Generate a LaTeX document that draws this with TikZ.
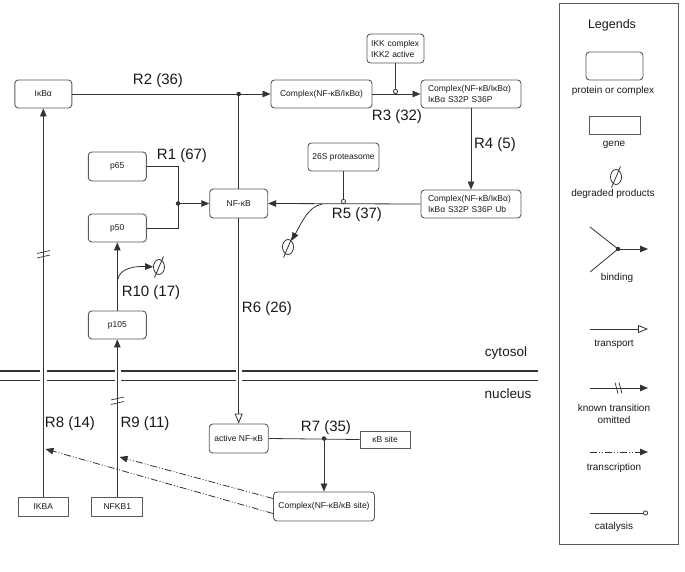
\documentclass[tikz,border=0pt]{standalone}
\usepackage{fontspec}
\setmainfont{Liberation Sans}
\usetikzlibrary{arrows.meta,shapes.geometric}
\definecolor{ln}{HTML}{333333}
\definecolor{bd}{HTML}{5A5A5A}
\definecolor{tx}{HTML}{1A1A1A}
\newcommand\slashdeg[1]{\draw[ln,line width=0.8pt] (#1.center) +(-4.5,10.5) -- +(4.5,-10.5);}
\tikzset{
  prot/.style={draw=bd, line width=0.9pt, rounded corners=3.5pt, font=\fontsize{8.5}{11.5}\selectfont, text=tx, inner sep=1pt},
  gen/.style={draw=bd, line width=0.9pt, font=\fontsize{8.5}{10}\selectfont, text=tx, inner sep=1pt},
  conn/.style={draw=ln, line width=0.8pt},
  arr/.style={conn, -{Triangle[length=8pt,width=6.5pt]}},
  trns/.style={conn, -{Triangle[open,length=10pt,width=8pt]}},
  cat/.style={conn, -{Circle[open,length=5pt,width=5pt]}},
  trc/.style={arr, dash pattern=on 7pt off 2pt on 1pt off 2pt on 1pt off 2pt},
  rlab/.style={font=\fontsize{15}{17}\selectfont, text=tx, inner sep=0},
  llab/.style={font=\fontsize{10}{12.5}\selectfont, text=tx, inner sep=0, align=center},
  cmp/.style={font=\fontsize{13.5}{15}\selectfont, text=tx, inner sep=0},
  jdot/.style={circle, fill=ln, inner sep=0, minimum size=4.5pt},
  degr/.style={ellipse, draw=ln, line width=0.8pt, minimum width=11pt, minimum height=15pt, inner sep=0},
  brk/.style={draw=ln, line width=0.7pt},
}
\begin{document}
\begin{tikzpicture}[x=1pt,y=-1pt]
\useasboundingbox (0,0) rectangle (685,572);
\fill[white] (0,0) rectangle (685,572);

% membrane
\draw[ln, line width=1.6pt] (0,371) -- (538,371);
\draw[ln, line width=0.9pt] (0,380) -- (538,380);
\fill[white] (40,366) rectangle (46.5,385);
\fill[white] (114.5,366) rectangle (120.5,385);
\fill[white] (235.5,366) rectangle (241.5,385);
\node[cmp] (cyto) at (506,353) {cytosol};
\node[cmp] (nucl) at (508,394) {nucleus};

% nodes
\node[prot, minimum width=57pt, minimum height=28pt] (ikba) at (43.3,94) {IκBα};
\node[prot, minimum width=101pt, minimum height=28pt] (cplx1) at (321.5,94) {Complex(NF-κB/IκBα)};
\node[prot, text width=86pt, inner xsep=7pt, minimum height=28pt, align=left] (cplx2) at (471,94) {Complex(NF-κB/IκBα)\\IκBα S32P S36P};
\node[prot, text width=49pt, inner xsep=4pt, minimum height=29pt, align=left, font=\fontsize{8.5}{11}\selectfont] (ikk) at (395.5,48.5) {IKK complex\\IKK2 active};
\node[prot, text width=86pt, inner xsep=7pt, minimum height=28pt, align=left] (cplx3) at (471,204) {Complex(NF-κB/IκBα)\\IκBα S32P S36P Ub};
\node[prot, minimum width=71pt, minimum height=28pt] (prot26) at (343.5,157) {26S proteasome};
\node[prot, minimum width=58pt, minimum height=29pt] (nfkb) at (238.7,203.5) {NF-κB};
\node[prot, minimum width=58pt, minimum height=29pt] (p65) at (117.3,166.5) {p65};
\node[prot, minimum width=58pt, minimum height=28pt] (p50) at (117.3,228) {p50};
\node[prot, minimum width=58pt, minimum height=28pt] (p105) at (117.3,325) {p105};
\node[prot, minimum width=59pt, minimum height=29pt] (actv) at (238.7,438.5) {active NF-κB};
\node[gen, minimum width=50pt, minimum height=17pt] (kbs) at (385,439.5) {κB site};
\node[prot, minimum width=101pt, minimum height=29pt] (cplxkb) at (324,506.5) {Complex(NF-κB/κB site)};
\node[gen, minimum width=50pt, minimum height=19pt] (ikbag) at (43.3,506.5) {IKBA};
\node[gen, minimum width=51pt, minimum height=19pt] (nfkb1g) at (117.3,506.5) {NFKB1};

% degraded products
\node[degr] (deg1) at (288,247) {};
\slashdeg{deg1}
\node[degr] (deg2) at (159,267) {};
\slashdeg{deg2}

% junction coordinates
\node[jdot] (d2) at (238.7,94) {};
\node[jdot] (r1d) at (178,203.5) {};
\node[jdot] (r7d) at (324,438.5) {};
\coordinate (r5d) at (322,204);
\coordinate (r10d) at (117.3,284);
\coordinate (c3) at (395.5,94);
\coordinate (c5) at (343.5,204);
\coordinate (t9) at (119.5,457);
\coordinate (t8) at (45.5,449);

% R2
\draw[conn] (ikba.east) -- (d2.center);
\draw[conn] (nfkb.north) -- (d2.center);
\draw[arr] (d2.center) -- (cplx1.west);
\node[rlab] (l2) at (158,81) {R2 (36)};
% R3
\draw[arr] (cplx1.east) -- (cplx2.west);
\draw[cat] (ikk.south) -- (c3);
\node[rlab] (l3) at (397,117) {R3 (32)};
% R4
\draw[arr] (cplx2.south) -- (cplx3.north);
\node[rlab] (l4) at (495,145) {R4 (5)};
% R5
\draw[arr] (cplx3.west) -- (nfkb.east);
\draw[cat] (prot26.south) -- (c5);
\draw[arr] (r5d) .. controls (308,207) and (302,222) .. (deg1);
\node[rlab] (l5) at (357,215) {R5 (37)};
% R1
\draw[conn] (p65.east) -| (r1d.center);
\draw[conn] (p50.east) -| (r1d.center);
\draw[arr] (r1d.center) -- (nfkb.west);
\node[rlab] (l1) at (182,156) {R1 (67)};
% R10
\draw[arr] (p105.north) -- (p50.south);
\draw[arr] (r10d) .. controls (117,271) and (128,266) .. (deg2);
\node[rlab] (l10) at (151,293) {R10 (17)};
% R6
\draw[trns] (nfkb.south) -- (actv.north);
\node[rlab] (l6) at (267,309) {R6 (26)};
% R7
\draw[conn] (actv.east) -- (kbs.west);
\draw[arr] (r7d.center) -- (cplxkb.north);
\node[rlab] (l7) at (326,428) {R7 (35)};
% R8
\draw[arr] (ikbag.north) -- (ikba.south);
\draw[brk] (37,253.5) -- (50,250.5);
\draw[brk] (37,258) -- (50,255);
\node[rlab] (l8) at (70,424) {R8 (14)};
% R9
\draw[arr] (nfkb1g.north) -- (p105.south);
\draw[brk] (111,400) -- (124,397);
\draw[brk] (111,404.5) -- (124,401.5);
\node[rlab] (l9) at (145,424) {R9 (11)};
% transcription
\draw[trc] ([yshift=8pt]cplxkb.west) -- (t9);
\draw[trc] ([yshift=-7pt]cplxkb.west) -- (t8);

% legend
\draw[bd, line width=0.9pt] (559,3) rectangle (678,544);
\node[font=\fontsize{12.5}{14}\selectfont, text=tx, inner sep=0] (lt) at (612,25) {Legends};
\node[prot, minimum width=57pt, minimum height=28pt] (lprot) at (614.5,66) {};
\node[llab] (lprott) at (613,91) {protein or complex};
\node[gen, minimum width=51pt, minimum height=18pt] (lgene) at (614.5,125) {};
\node[llab] (lgenet) at (614,145) {gene};
\node[degr] (deg3) at (616,177) {};
\slashdeg{deg3}
\node[llab] (ldegt) at (613,194) {degraded products};
\coordinate (lb1) at (590,227);
\coordinate (lb2) at (590,272);
\node[jdot] (lbd) at (618,249) {};
\coordinate (lbe) at (648,249);
\draw[conn] (lb1) -- (lbd.center);
\draw[conn] (lb2) -- (lbd.center);
\draw[arr] (lbd.center) -- (lbe);
\node[llab] (lbt) at (617,278) {binding};
\coordinate (ltr1) at (590,329);
\coordinate (ltr2) at (648,329);
\draw[trns] (ltr1) -- (ltr2);
\node[llab] (ltrt) at (614,344) {transport};
\coordinate (lk1) at (590,388);
\coordinate (lk2) at (648,388);
\draw[arr] (lk1) -- (lk2);
\draw[brk] (615,382.5) -- (618,393.5);
\draw[brk] (619,382.5) -- (622,393.5);
\node[llab] (lkt) at (614,414) {known transition\\omitted};
\coordinate (lc1) at (590,452);
\coordinate (lc2) at (648,452);
\draw[trc] (lc1) -- (lc2);
\node[llab] (lct) at (614,468) {transcription};
\coordinate (lca1) at (590,513);
\coordinate (lca2) at (648,513);
\draw[cat] (lca1) -- (lca2);
\node[llab] (lcat) at (614,527) {catalysis};
\end{tikzpicture}
\end{document}
